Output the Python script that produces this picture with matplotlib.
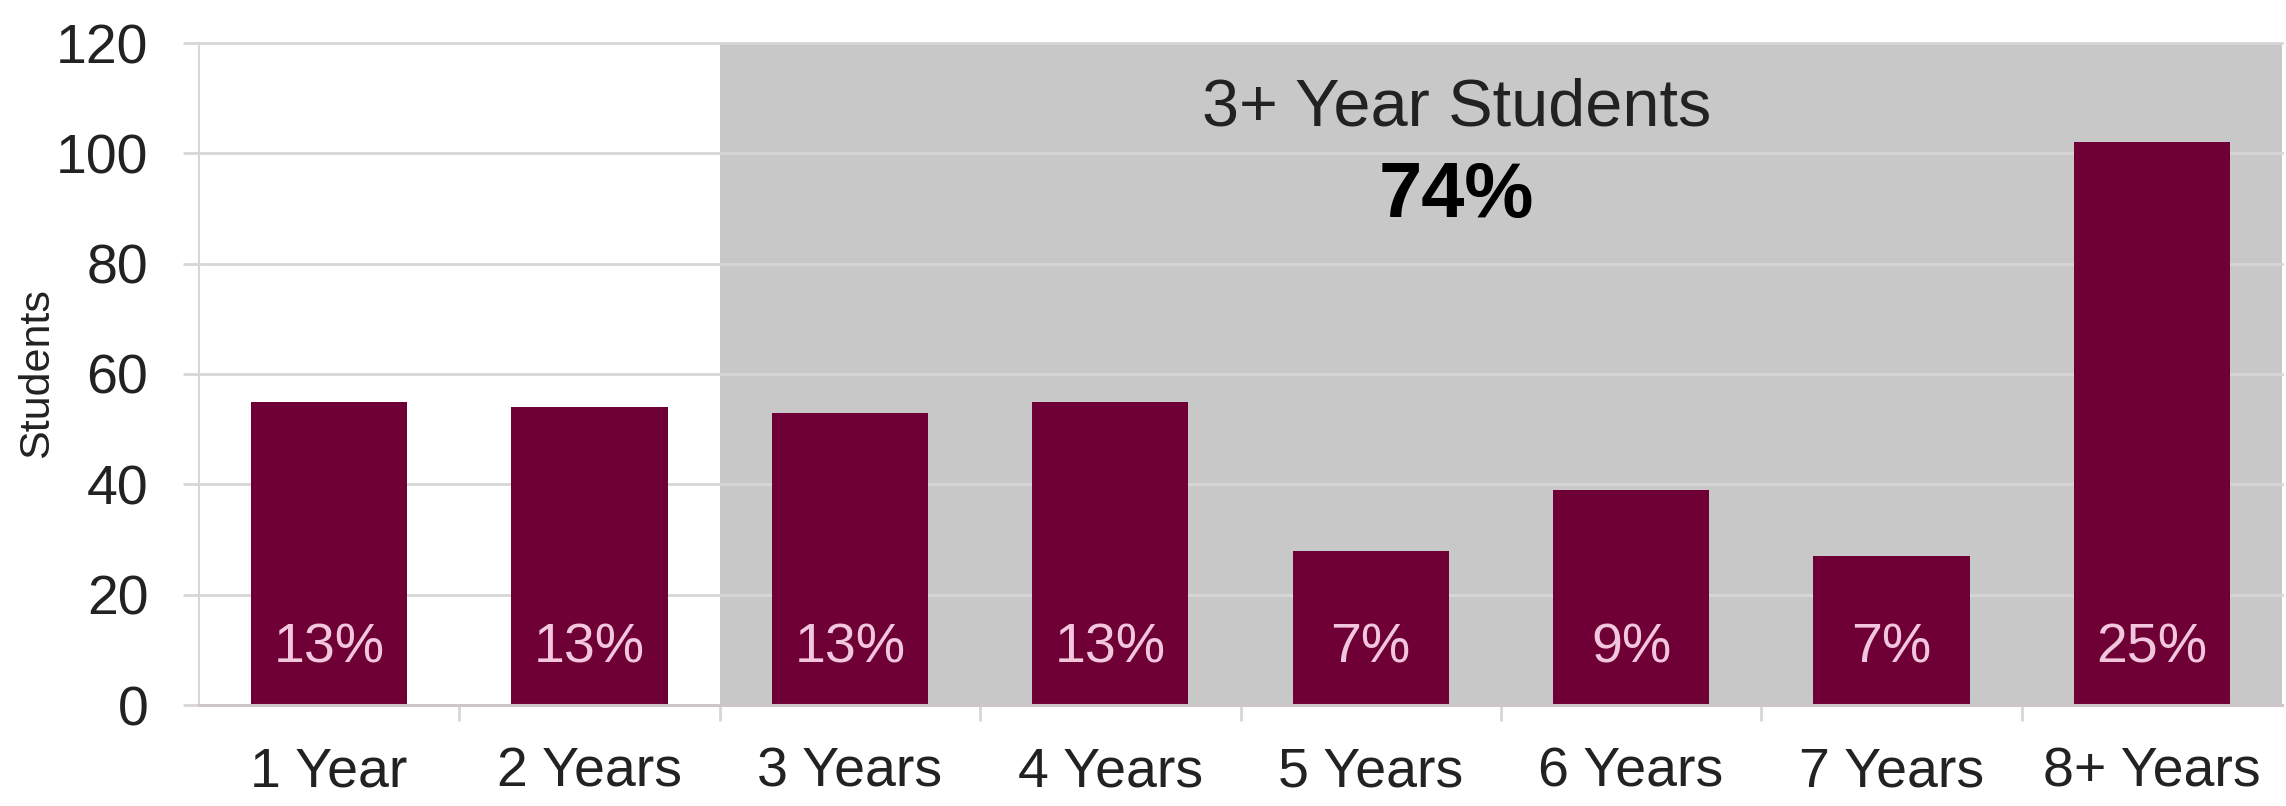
import matplotlib
matplotlib.use("Agg")
import matplotlib.pyplot as plt
import numpy as np

plt.rcParams["font.family"] = ["Liberation Sans", "DejaVu Sans"]

# Students by number of years enrolled
categories = ["1 Year", "2 Years", "3 Years", "4 Years", "5 Years", "6 Years", "7 Years", "8+ Years"]
students = [55, 54, 53, 55, 28, 39, 27, 102]
yticks = [0, 20, 40, 60, 80, 100, 120]
group_title = "3+ Year Students"
group_start = 2  # index of the first category in the 3+ year group

bar_color = "#6e0035"
grid_color = "#d6d6d6"
shade_color = "#c8c8c8"
text_color = "#222222"

total = sum(students)
shares = [round(v / total * 100) for v in students]
group_share = round(sum(students[group_start:]) / total * 100)

fig = plt.figure(figsize=(22.86, 8.06), dpi=100)
ax = fig.add_axes([199 / 2286, 1 - 705 / 806, 2083 / 2286, 662 / 806])

x = np.arange(len(categories))

# shaded block behind the 3+ year categories
ax.axvspan(group_start - 0.5, len(categories) - 0.5, color=shade_color, zorder=0, lw=0)

ax.bar(x, students, width=0.6, color=bar_color, zorder=3)

for xi, s in zip(x, shares):
    ax.text(xi, 10.3, f"{s}%", ha="center", va="center", fontsize=40,
            color="#f2c6dc", zorder=4)

xc = (group_start - 0.5 + len(categories) - 0.5) / 2 - 0.17
ax.text(xc, 105, group_title, ha="center", va="baseline", fontsize=48,
        color=text_color, zorder=4)
ax.text(xc, 88.5, f"{group_share}%", ha="center", va="baseline", fontsize=56,
        fontweight="bold", color="black", zorder=4)

ax.set_xlim(-0.5, len(categories) - 0.5)
ax.set_ylim(0, 120)
ax.set_yticks(yticks)
ax.set_yticklabels([str(t) for t in yticks])
ax.set_xticks(x)
ax.set_xticklabels(categories)
ax.set_xticks(np.arange(0.5, len(categories) - 1, 1.0), minor=True)

ax.yaxis.grid(True, color=grid_color, linewidth=2, zorder=1)
ax.set_axisbelow(True)
for gl in ax.yaxis.get_gridlines():
    gl.set_clip_on(False)

ax.tick_params(axis="y", which="major", length=11.5, width=2, color=grid_color,
               labelsize=40, labelcolor=text_color, pad=25)
ax.tick_params(axis="x", which="major", length=0, labelsize=40,
               labelcolor=text_color, pad=30)
ax.tick_params(axis="x", which="minor", length=11.5, width=2, color=grid_color,
               direction="out")

for side in ("top", "right"):
    ax.spines[side].set_visible(False)
ax.spines["left"].set_color(grid_color)
ax.spines["left"].set_linewidth(1.5)
ax.spines["bottom"].set_color("#cfc4c8")
ax.spines["bottom"].set_linewidth(2.2)
ax.spines["bottom"].set_zorder(5)

fig.text(37 / 2286, 1 - 373 / 806, "Students", rotation=90, ha="center",
         va="center", fontsize=31, color=text_color)

fig.savefig("out.png", dpi=100, facecolor="white")
